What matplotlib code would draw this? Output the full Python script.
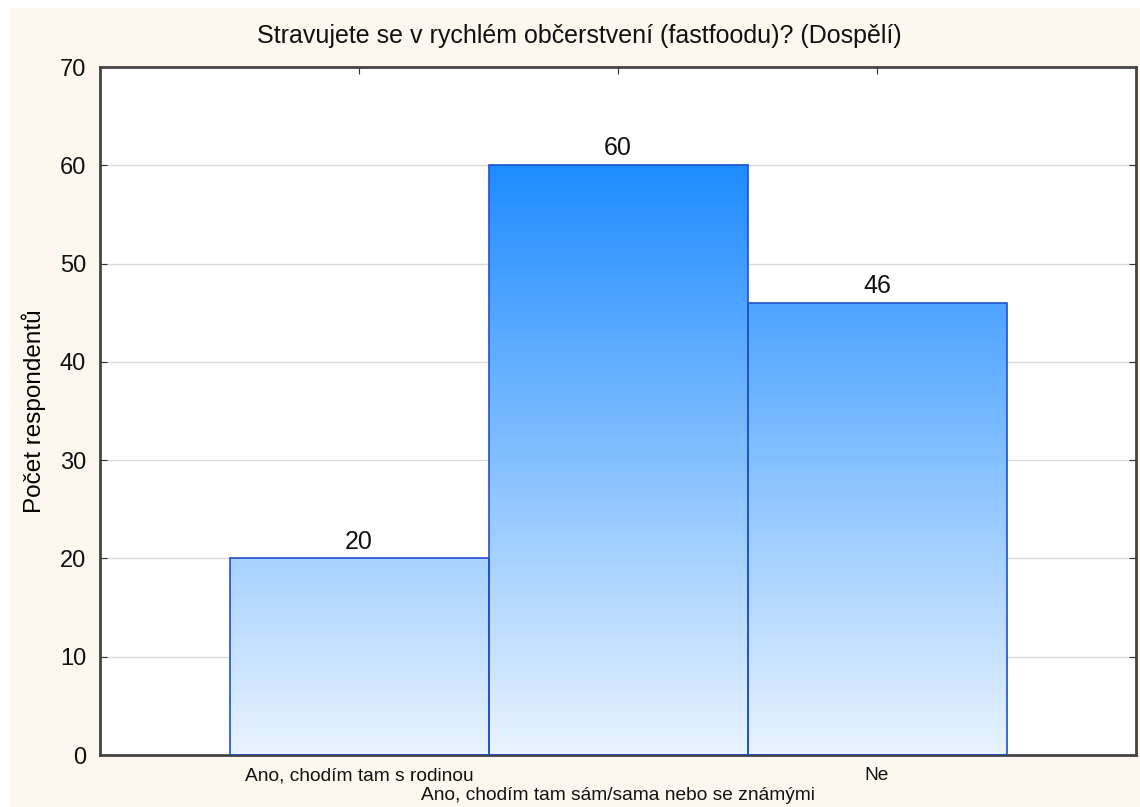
import matplotlib.pyplot as plt
import numpy as np
from matplotlib.colors import LinearSegmentedColormap
from matplotlib.patches import Rectangle

plt.rcParams['font.family'] = ['Liberation Sans', 'DejaVu Sans']

# data -----------------------------------
categories = ['Ano, chodím tam s rodinou',
              'Ano, chodím tam sám/sama nebo se známými',
              'Ne']
counts = [20, 60, 46]
title = 'Stravujete se v rychlém občerstvení (fastfoodu)? (Dospělí)'
ylabel = 'Počet respondentů'

bg = '#fdf8ee'
grad = LinearSegmentedColormap.from_list('bluegrad', ['#eaf4ff', '#1e8cff'])

fig = plt.figure(figsize=(11.4, 8.07), dpi=100, facecolor='white')
# cream panel behind everything
fig.patches.append(Rectangle((10 / 1140, 0), 1, 1 - 8 / 807, transform=fig.transFigure,
                             facecolor=bg, edgecolor='none', zorder=-10))
ax = fig.add_axes([100 / 1140, 1 - 755 / 807, 1036 / 1140, (755 - 67) / 807])
ax.set_facecolor('white')

x = np.arange(1, len(counts) + 1)

ax.yaxis.grid(True, color='#d8d8d8', linewidth=1)
ax.set_axisbelow(True)

# gradient image, clipped to each bar
gy = np.linspace(0, 1, 256).reshape(-1, 1)
bars = ax.bar(x, counts, width=1.0, facecolor='none', edgecolor='#1f50d0', linewidth=1.2, zorder=3)
for b in bars:
    im = ax.imshow(gy, cmap=grad, aspect='auto', origin='lower',
                   extent=(0, 4, 0, 60), zorder=2, interpolation='bilinear')
    clip = Rectangle((b.get_x(), 0), b.get_width(), b.get_height(), transform=ax.transData)
    im.set_clip_path(clip)
ax.set_xlim(0, 4)
ax.set_ylim(0, 70)

for xi, v in zip(x, counts):
    ax.text(xi, v + 0.5, str(v), ha='center', va='bottom', fontsize=18, color='#111111')

ax.set_yticks(range(0, 71, 10))
ax.tick_params(axis='y', labelsize=17, direction='in', length=5, right=True, pad=10,
               color='#333333', labelcolor='#111111')
ax.set_xticks(x)
ax.set_xticklabels(['' for _ in x])
ax.tick_params(axis='x', direction='in', length=5, top=True, color='#333333')

for i, (xi, lab) in enumerate(zip(x, categories)):
    yoff = -0.0305 if i % 2 == 0 else -0.0590
    ax.text(xi, yoff, lab, transform=ax.get_xaxis_transform(), ha='center', va='center',
            fontsize=13.8, color='#111111')

for s in ax.spines.values():
    s.set_color('#444444')
    s.set_linewidth(2)

ax.set_ylabel(ylabel, fontsize=17.5, labelpad=10)
fig.text(0.508, 1 - 36 / 807, title, ha='center', va='center', fontsize=18, color='#111111')

plt.savefig('out.png', dpi=100, facecolor='white')
